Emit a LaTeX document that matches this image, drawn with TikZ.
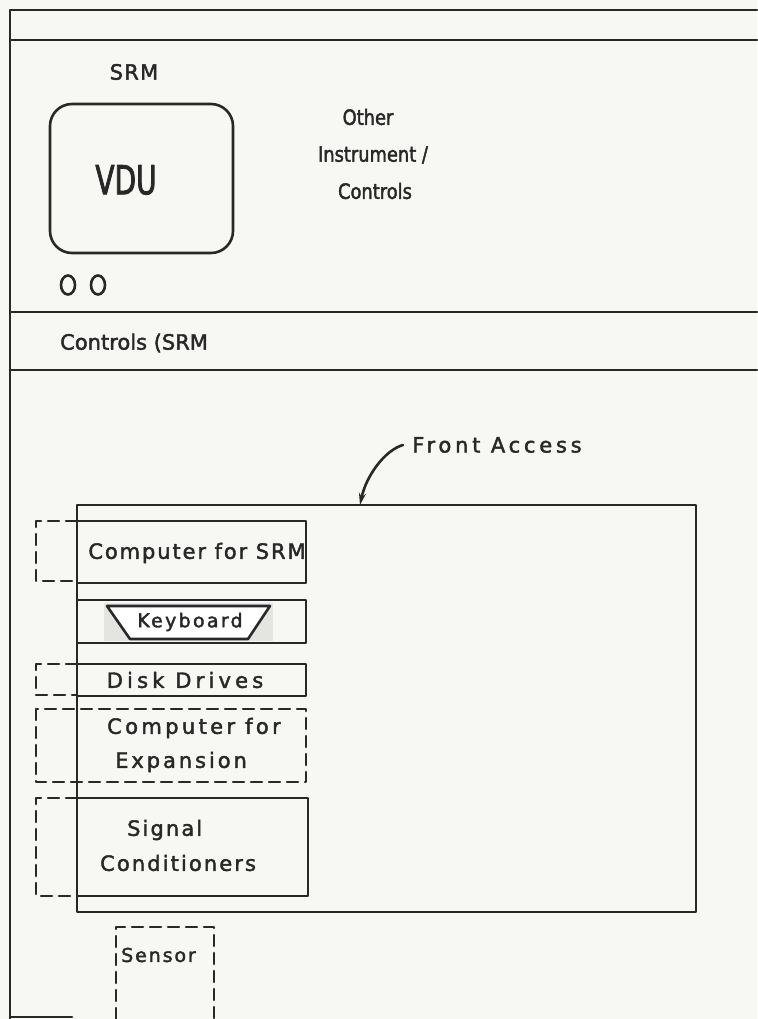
\documentclass[tikz,border=0pt]{standalone}
\usepackage{fontspec}
\usetikzlibrary{arrows.meta}
\setmainfont{DejaVu Sans}
\newfontfamily\lettering[FakeBold=2]{DejaVu Sans}
\newfontfamily\narrowlettering[FakeStretch=0.85,FakeBold=2]{DejaVu Sans}
\newfontfamily\vdufont[FakeStretch=0.7,FakeBold=2]{DejaVu Sans}
\newcommand\spaced[2]{\lettering\fontsize{#1}{#1}\selectfont\addfontfeatures{LetterSpace=#2}}
\definecolor{paper}{RGB}{247,247,243}
\definecolor{ink}{RGB}{40,40,40}
\definecolor{scan}{RGB}{228,228,225}
\tikzset{
  unit/.style={draw=ink,line width=2.6pt},
  dashunit/.style={draw=ink,line width=2.6pt,dash pattern=on 11pt off 7pt},
  label/.style={text=ink,inner sep=0pt,font=\spaced{21}{6}},
  narrow label/.style={label,font=\narrowlettering\fontsize{21}{21}\selectfont},
}
\begin{document}
\begin{tikzpicture}[x=1pt,y=-1pt,line cap=round,line join=round]
\fill[paper] (0,0) rectangle (757,1019);
\useasboundingbox (0,0) rectangle (757,1019);
% outer frame and panel lines
\draw[unit] (757,10) -- (10,10) -- (10,1019);
\draw[unit] (10,40) -- (757,40);
\draw[unit] (10,312) -- (757,312);
\draw[unit] (10,370) -- (757,370);
\draw[unit] (10,1017) -- (72,1017);
% SRM panel
\node[label] (srm) at (134,72) {SRM};
\draw[unit,rounded corners=22pt] (50,104) rectangle (233,253);
\node[label,font=\vdufont\fontsize{40}{44}\selectfont] (vdu) at (126,180) {VDU};
\foreach \x in {68,98}
\draw[unit] (\x,285) ellipse (7pt and 9.5pt);
\node[narrow label] (other) at (368,117) {Other};
\node[narrow label] (instr) at (373,155) {Instrument /};
\node[narrow label] (ctrls) at (375,191) {Controls};
% controls strip
\node[label,anchor=west,font=\spaced{21}{0}] (ctrl) at (60,343) {Controls (SRM};
% front access cabinet
\draw[unit] (77,505) rectangle (696,912);
\coordinate (front) at (360,505);
\node[label,anchor=west,font=\spaced{21}{18}] (access) at (412,445) {Front Access};
\draw[unit,-{Stealth[length=12pt,width=7pt]}] ([xshift=-9pt]access.west) .. controls (385,450) and (366,476) .. (front);
% units in the rack
\draw[unit] (77,521) rectangle (306,583);
\draw[dashunit] (77,521) -- (36,521) -- (36,581) -- (77,581);
\node[label,font=\spaced{21}{9}] (cpu) at (197,553) {Computer for SRM};
\draw[unit] (77,600) rectangle (306,643);
\fill[scan] (104,603) rectangle (273,641);
\draw[unit,fill=white] (107,606) -- (270,606) -- (248,639) -- (130,639) -- cycle;
\node[label,font=\spaced{19}{12}] (kbd) at (190,622) {Keyboard};
\draw[unit] (77,664) rectangle (306,696);
\draw[dashunit] (77,664) -- (36,664) -- (36,695) -- (77,695);
\node[label,font=\spaced{21}{20}] (disk) at (185,680) {Disk Drives};
\draw[dashunit] (36,709) rectangle (306,782);
\node[label,anchor=west,font=\spaced{21}{16}] (exp) at (107,728) {Computer for};
\node[label,anchor=west,font=\spaced{21}{14}] (expb) at (115,762) {Expansion};
\draw[unit] (77,798) rectangle (308,896);
\draw[dashunit] (77,798) -- (36,798) -- (36,896) -- (77,896);
\node[label,anchor=west,font=\spaced{21}{10}] (sig) at (127,830) {Signal};
\node[label,anchor=west,font=\spaced{21}{10}] (sigb) at (100,863) {Conditioners};
% sensor below
\draw[dashunit] (116,1019) -- (116,927) -- (214,927) -- (214,1019);
\node[label,anchor=west,font=\spaced{19}{10}] (sensor) at (121,955) {Sensor};
\end{tikzpicture}
\end{document}
